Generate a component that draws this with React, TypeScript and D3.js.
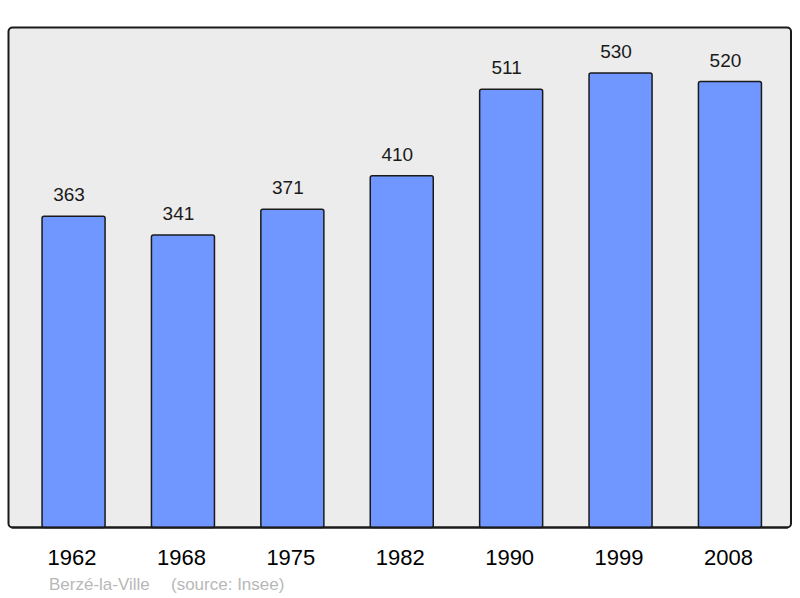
import { useEffect, useRef } from 'react';
import * as d3 from 'd3';

const years = ['1962', '1968', '1975', '1982', '1990', '1999', '2008'];
const population = [363, 341, 371, 410, 511, 530, 520];
const townName = 'Berzé-la-Ville';
const sourceLabel = '(source: Insee)';

const App = () => {
  const svgRef = useRef<SVGSVGElement>(null);

  useEffect(() => {
    const width = 800;
    const height = 598;
    const panel = { left: 8.5, top: 27.5, right: 791, bottom: 527.5 };

    const svg = d3.select(svgRef.current);
    svg.selectAll('*').remove();
    svg.attr('width', width).attr('height', height);

    const x = d3.scaleBand()
      .domain(years)
      .range([panel.left + 1.5, panel.right + 2.5])
      .paddingInner(0.424)
      .paddingOuter(0.293);

    const y = d3.scaleLinear()
      .domain([0, d3.max(population)! * 1.1])
      .range([panel.bottom, panel.top]);

    const rows = years.map((year, i) => ({ year, value: population[i] }));

    // grey panel
    svg.append('rect')
      .attr('x', panel.left)
      .attr('y', panel.top)
      .attr('width', panel.right - panel.left)
      .attr('height', panel.bottom - panel.top)
      .attr('rx', 4)
      .attr('fill', '#ececec')
      .attr('stroke', '#1a1a1a')
      .attr('stroke-width', 2);

    // bars
    svg.selectAll('rect.bar')
      .data(rows)
      .enter()
      .append('rect')
      .attr('class', 'bar')
      .attr('x', d => x(d.year)!)
      .attr('y', d => y(d.value))
      .attr('width', x.bandwidth())
      .attr('height', d => panel.bottom - y(d.value))
      .attr('rx', 2)
      .attr('fill', '#7096ff')
      .attr('stroke', '#1a1a1a')
      .attr('stroke-width', 1.5);

    // redraw the bottom line over bar bottoms
    svg.append('line')
      .attr('x1', panel.left + 3)
      .attr('x2', panel.right - 3)
      .attr('y1', panel.bottom)
      .attr('y2', panel.bottom)
      .attr('stroke', '#1a1a1a')
      .attr('stroke-width', 2);

    // value labels (sit a little left of bar centre)
    svg.selectAll('text.value')
      .data(rows)
      .enter()
      .append('text')
      .attr('class', 'value')
      .attr('x', d => x(d.year)! + x.bandwidth() / 2 - 4.5)
      .attr('y', d => y(d.value) - 15)
      .attr('text-anchor', 'middle')
      .attr('font-family', '"Liberation Sans", Arial, sans-serif')
      .attr('font-size', '19px')
      .attr('fill', '#1a1a1a')
      .text(d => d.value);

    // year labels
    svg.selectAll('text.year')
      .data(rows)
      .enter()
      .append('text')
      .attr('class', 'year')
      .attr('x', d => x(d.year)! + x.bandwidth() / 2 - 1.5)
      .attr('y', 565)
      .attr('text-anchor', 'middle')
      .attr('font-family', '"Liberation Sans", Arial, sans-serif')
      .attr('font-size', '22px')
      .attr('fill', '#000')
      .text(d => d.year);

    // footer
    const footer = svg.append('text')
      .attr('y', 590)
      .attr('font-family', '"Liberation Sans", Arial, sans-serif')
      .attr('font-size', '17px')
      .attr('fill', '#b8b8b8');
    footer.append('tspan').attr('x', 49).text(townName);
    footer.append('tspan').attr('x', 171).text(sourceLabel);
  }, []);

  return <svg ref={svgRef} style={{ position: 'absolute', left: 0, top: 0 }} />;
};

export default App;
